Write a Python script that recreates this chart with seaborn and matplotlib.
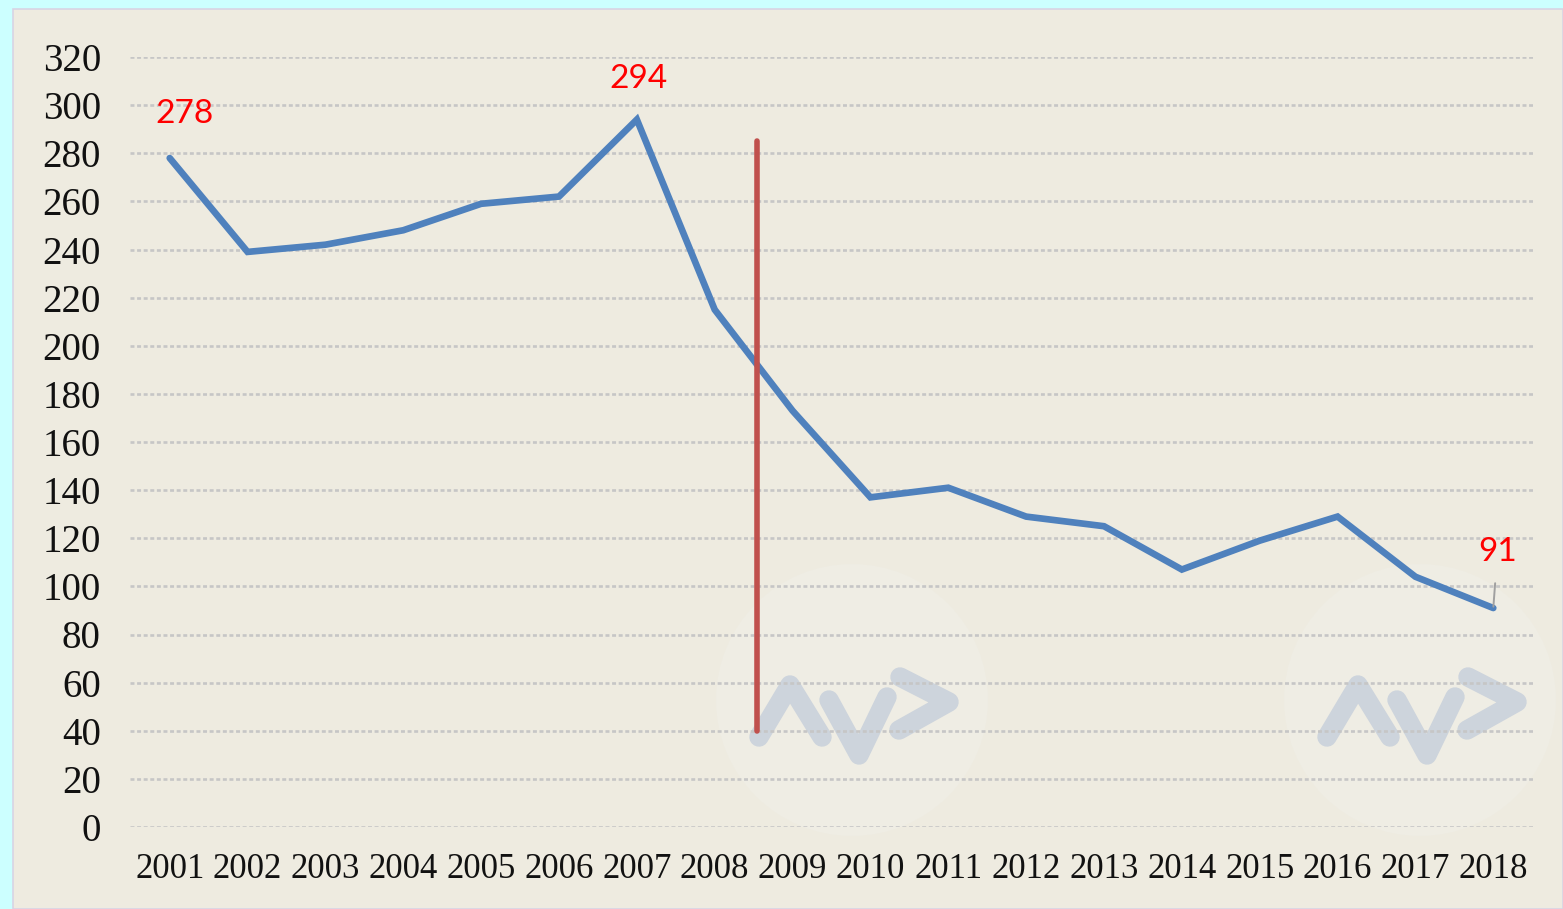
import matplotlib
matplotlib.use("Agg")
import matplotlib.pyplot as plt
import seaborn as sns
import pandas as pd
from matplotlib.patches import Rectangle, Ellipse
from matplotlib.lines import Line2D

years = list(range(2001, 2019))
values = [278, 239, 242, 248, 259, 262, 294, 215, 173, 137, 141, 129, 125, 107, 119, 129, 104, 91]
labels = {2001: "278", 2007: "294", 2018: "91"}
yticks = list(range(0, 321, 20))
divider_x = 2008.54
divider_y = (40, 285)

sns.set_theme(style="white")
plt.rcParams["font.family"] = ["Liberation Serif", "DejaVu Serif"]

W, H = 1563, 909
fig = plt.figure(figsize=(W / 100, H / 100), dpi=100)
fig.patch.set_facecolor("#CCFFFF")


def fx(px):
    return px / W


def fy(py):
    return (H - py) / H


fig.add_artist(Rectangle((fx(13), 0), 1 - fx(13), fy(9), transform=fig.transFigure,
                         facecolor="#EEEBE0", edgecolor="#D8D4E4", linewidth=1.2, zorder=-3))

# faint watermarks (decorative)
for cx, cy in ((852, 700), (1420, 700)):
    fig.add_artist(Ellipse((fx(cx), fy(cy)), 272 / W, 272 / H, transform=fig.transFigure,
                           facecolor="#EFEDE4", edgecolor="none", zorder=-2))
    shapes = [[(-93, 37), (-62, -15), (-30, 37)],
              [(-23, 0), (7, 55), (35, -3)],
              [(48, -23), (97, 2), (47, 30)]]
    for shp in shapes:
        fig.add_artist(Line2D([fx(cx + dx) for dx, dy in shp], [fy(cy + dy) for dx, dy in shp],
                              transform=fig.transFigure, color="#CDD4DC", linewidth=14,
                              solid_capstyle="round", solid_joinstyle="round", zorder=-1))

ax = fig.add_axes([fx(130), fy(827), (1533 - 130) / W, (827 - 57) / H])
ax.set_facecolor("none")
ax.set_zorder(1)

df = pd.DataFrame({"year": years, "value": values})
sns.lineplot(data=df, x="year", y="value", ax=ax, color="#4F81BD", linewidth=4.8,
             solid_joinstyle="miter", zorder=3)

ax.set_xlim(2000.49, 2018.51)
ax.set_ylim(0, 320)
ax.set_yticks(yticks)
ax.set_yticklabels([str(t) for t in yticks])
ax.set_xticks(years)
ax.set_xticklabels([str(y) for y in years])
ax.tick_params(axis="y", length=0, pad=21, labelsize=28, labelcolor="#111111")
ax.tick_params(axis="x", length=0, pad=19, labelsize=25, labelcolor="#111111")
ax.set_xlabel("")
ax.set_ylabel("")
for s in ax.spines.values():
    s.set_visible(False)
ax.grid(axis="y", color="#C6C6C6", linestyle=(0, (1.5, 1.0)), linewidth=1.9, zorder=1)
ax.grid(axis="x", visible=False)

# red divider
ax.plot([divider_x, divider_x], list(divider_y), color="#C0504D", linewidth=4, zorder=4)

# annotations
offsets = {2001: (11, 32), 2007: (1, 29), 2018: (3, 40)}
for yr, txt in labels.items():
    v = values[years.index(yr)]
    kw = {}
    if yr == 2018:
        kw = dict(arrowprops=dict(arrowstyle="-", color="#A0A0A0", lw=1.4, shrinkA=9, shrinkB=1))
    ax.annotate(txt, (yr, v), xytext=offsets[yr], textcoords="offset points",
                ha="center", va="center", color="#FF0000", fontsize=24, family="Lato",
                annotation_clip=False, zorder=5, **kw)

fig.savefig("out.png", dpi=100, facecolor=fig.get_facecolor())
